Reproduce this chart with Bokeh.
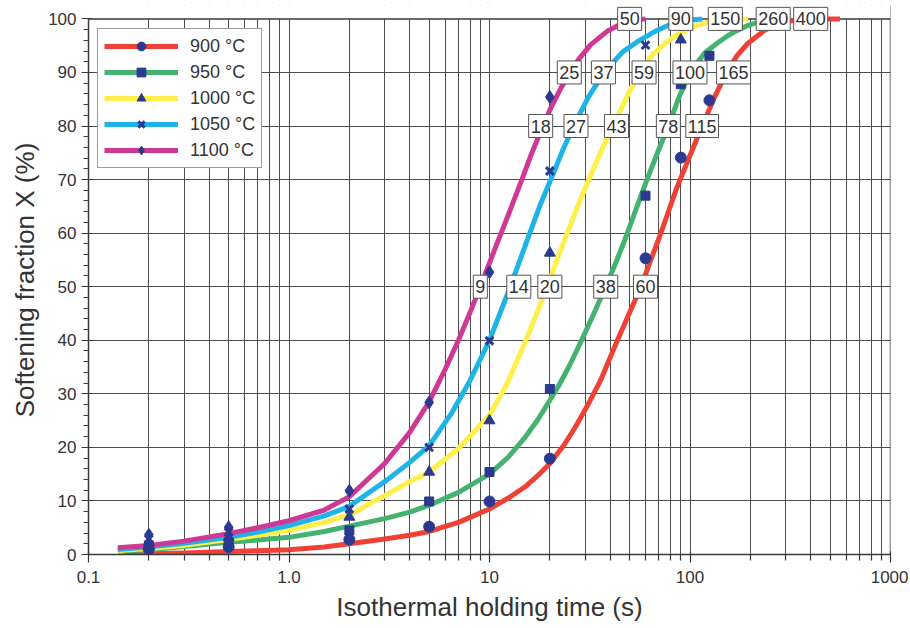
from bokeh.plotting import figure
from bokeh.models import (FixedTicker, Legend, LegendItem, Range1d, Label, Span, BoxAnnotation)
from bokeh.embed import file_html
from bokeh.resources import INLINE

# ---------------- data ----------------
series_names = ["900 °C", "950 °C", "1000 °C", "1050 °C", "1100 °C"]

# fitted curves (time in s, softening fraction in %)
t_900 = [0.15, 0.2, 0.3, 0.5, 0.7, 1, 1.5, 2, 3, 4, 5, 7, 10, 12.5, 15, 17.5, 20, 23.5, 27, 31, 35.8, 39.5, 43, 50, 57, 63, 70, 78, 86, 100, 115, 133, 152, 172, 194, 236, 270, 305, 350, 400, 560]
x_900 = [0.1, 0.15, 0.3, 0.55, 0.7, 0.9, 1.4, 2.0, 2.9, 3.6, 4.3, 6.0, 8.5, 10.6, 12.6, 14.8, 17.0, 20.4, 24.0, 28.0, 32.5, 36.3, 39.6, 45.2, 50, 54.5, 59, 64, 68.5, 74.5, 80, 85.5, 90, 93.2, 95.4, 97.9, 98.9, 99.5, 99.9, 100, 100]

t_950 = [0.14, 0.2, 0.3, 0.5, 0.7, 1, 1.5, 2, 3, 4, 5, 7, 10, 12.5, 15, 17.5, 20, 22.2, 25, 28.4, 33, 38, 43, 47.6, 53, 58.9, 68, 78, 88, 100, 118, 137, 155, 171, 195, 215, 260, 300]
x_950 = [0.6, 0.9, 1.5, 2.3, 2.7, 3.2, 4.3, 5.3, 6.7, 7.9, 9.2, 11.6, 15.0, 18.3, 21.8, 25.3, 28.8, 31.6, 35.2, 39.5, 44.8, 50, 54.8, 59, 63.8, 68.5, 74.5, 80, 85.3, 90, 93.6, 95.5, 96.9, 97.8, 98.8, 99.3, 99.8, 100]

t_1000 = [0.14, 0.2, 0.3, 0.5, 0.7, 1, 1.5, 2, 3, 4, 5, 7, 10, 12.2, 15, 17, 19.4, 21.8, 24.3, 27.5, 31.3, 36, 42, 48, 55, 65, 77, 88, 101, 123, 160, 195]
x_1000 = [0.75, 1.1, 1.7, 2.8, 3.6, 4.5, 6.0, 7.4, 11.0, 13.6, 15.4, 19.8, 26.0, 31.8, 39.5, 44.5, 50, 55.2, 59.8, 65, 70, 75.3, 80.5, 85.2, 89.5, 93.3, 95.8, 97.2, 98.3, 99.4, 99.9, 100]

t_1050 = [0.14, 0.2, 0.3, 0.5, 0.7, 1, 1.5, 2, 3, 4, 5, 6.5, 8, 10, 12.7, 15.7, 18, 21, 23.5, 26.5, 31, 37, 46, 56, 68, 80, 100, 115]
x_1050 = [0.95, 1.4, 2.1, 3.2, 4.2, 5.4, 7.2, 9.0, 13.6, 17.2, 20.3, 26.5, 32.5, 40, 50, 59.5, 65.5, 71.5, 76, 80.2, 85.3, 89.8, 93.8, 96, 97.8, 99, 99.8, 100]

t_1100 = [0.14, 0.2, 0.3, 0.5, 0.7, 1, 1.5, 2, 3, 4, 5, 6, 7, 8, 9, 10.5, 12, 14.5, 16, 18, 20, 22.5, 25, 28, 32, 39, 45, 52, 60]
x_1100 = [1.25, 1.7, 2.5, 3.9, 5.0, 6.3, 8.3, 10.8, 17.0, 22.8, 28.5, 34.5, 40, 45.2, 50, 56.5, 62, 70, 74.3, 79, 83, 86.8, 89.8, 92.6, 95.2, 97.8, 99, 99.7, 100]

# measured points
pt_900 = [0.2, 0.5, 2, 5, 10, 20, 60, 90, 125]
px_900 = [1.0, 1.4, 2.8, 5.2, 9.9, 17.9, 55.3, 74.1, 84.8]
pt_950 = [0.2, 0.5, 2, 5, 10, 20, 60, 90, 125]
px_950 = [1.7, 2.3, 4.5, 9.9, 15.4, 30.9, 67.0, 87.8, 93.1]
pt_1000 = [0.2, 0.5, 2, 5, 10, 20, 90]
px_1000 = [2.3, 3.2, 7.0, 15.4, 25.0, 56.3, 96.1]
pt_1050 = [0.2, 0.5, 2, 5, 10, 20, 60]
px_1050 = [2.9, 4.2, 8.5, 20.0, 39.9, 71.6, 95.1]
pt_1100 = [0.2, 0.5, 2, 5, 10, 20]
px_1100 = [3.7, 5.1, 11.9, 28.4, 52.7, 85.4]

# characteristic times (s) at 50, 80, 90 and 100 % softening
level_50 = [9, 14, 20, 38, 60]
level_80 = [18, 27, 43, 78, 115]
level_90 = [25, 37, 59, 100, 165]
level_100 = [50, 90, 150, 260, 400]
levels = [50, 80, 90, 100]

x_major = [0.1, 1, 10, 100, 1000]
x_tick_labels = ["0.1", "1.0", "10", "100", "1000"]
y_major = list(range(0, 101, 10))
x_lim = (0.1, 1000)
y_lim = (0, 100)

# ---------------- styling ----------------
colors = ["#EF4136", "#45B36F", "#FFEF4A", "#1FB4E8", "#CF3996"]
markers = ["circle", "square", "triangle", "x", "diamond"]
msizes = [11, 9, 11, 11, 13]
mcolor = "#2B3A8F"
FONT = "Liberation Sans"
GRID = "#4d4d4d"
AXIS = "#3a3a3a"
TXT = "#333333"

# a little head-room above 100 % so the boxed labels on the 100 % line are not cut
p = figure(width=908, height=626, x_axis_type="log",
           x_range=Range1d(x_lim[0], x_lim[1]), y_range=Range1d(y_lim[0], y_lim[1] + 2.5),
           output_backend="svg", toolbar_location=None,
           min_border_left=88, min_border_right=18, min_border_top=5, min_border_bottom=72)
p.background_fill_color = "white"
p.border_fill_color = "white"
p.outline_line_color = None

x_minor = [m * d for d in [0.1, 1, 10, 100] for m in range(2, 10)]
xt = FixedTicker(ticks=x_major, minor_ticks=x_minor)
yt = FixedTicker(ticks=y_major, minor_ticks=list(range(0, 101, 2)))
p.xaxis.ticker = xt
p.yaxis.ticker = yt
p.xgrid.ticker = xt
p.ygrid.ticker = yt
p.yaxis.bounds = y_lim
p.xaxis.major_label_overrides = {v: s for v, s in zip(x_major, x_tick_labels)}

p.xgrid.grid_line_color = GRID
p.xgrid.minor_grid_line_color = GRID
p.xgrid.grid_line_width = 1
p.xgrid.minor_grid_line_width = 1
p.ygrid.grid_line_color = GRID
p.ygrid.grid_line_width = 1

for ax in (p.xaxis, p.yaxis):
    ax.axis_line_color = AXIS
    ax.axis_line_width = 1.5
    ax.major_tick_line_color = AXIS
    ax.minor_tick_line_color = AXIS
    ax.major_tick_line_width = 1.2
    ax.minor_tick_line_width = 1.2
    ax.major_label_text_font = FONT
    ax.major_label_text_font_size = "17px"
    ax.major_label_text_color = TXT
    ax.axis_label_text_font = FONT
    ax.axis_label_text_font_size = "26px"
    ax.axis_label_text_font_style = "normal"
    ax.axis_label_text_color = TXT

p.xaxis.major_tick_out = 8
p.xaxis.major_tick_in = 3
p.xaxis.minor_tick_out = 6
p.xaxis.minor_tick_in = 0
p.xaxis.major_label_standoff = 8
p.xaxis.axis_label_standoff = 6
p.yaxis.major_tick_out = 7
p.yaxis.major_tick_in = 4
p.yaxis.minor_tick_out = 5
p.yaxis.minor_tick_in = 0
p.yaxis.major_label_standoff = 5
p.yaxis.axis_label_standoff = 5

p.xaxis.axis_label = "Isothermal holding time (s)"
p.yaxis.axis_label = "Softening fraction X (%)"

# frame border at x = 1000 and y = 100; blank the head-room strip above 100 %
p.add_layout(Span(location=x_lim[1], dimension="height", line_color=AXIS, line_width=1.5, level="underlay"))
p.add_layout(BoxAnnotation(bottom=y_lim[1], fill_color="white", fill_alpha=1.0, line_color=None, level="underlay"))
p.add_layout(Span(location=y_lim[1], dimension="width", line_color=AXIS, line_width=1.5, level="underlay"))

curves = [(t_900, x_900), (t_950, x_950), (t_1000, x_1000), (t_1050, x_1050), (t_1100, x_1100)]
points = [(pt_900, px_900), (pt_950, px_950), (pt_1000, px_1000), (pt_1050, px_1050), (pt_1100, px_1100)]

line_rs = []
for (t, x), c in zip(curves, colors):
    line_rs.append(p.line(t, x, line_color=c, line_width=5, line_join="round"))

items = []
for i, ((t, x), m, s) in enumerate(zip(points, markers, msizes)):
    lw = 3 if m == "x" else 1
    r = p.scatter(t, x, marker=m, size=s, fill_color=mcolor, line_color=mcolor, line_width=lw)
    items.append(LegendItem(label=series_names[i], renderers=[line_rs[i], r]))

legend = Legend(items=items, location=(9, 386), padding=6, spacing=4,
                glyph_width=74, glyph_height=22, label_height=22, label_standoff=12,
                label_text_font=FONT, label_text_font_size="18px", label_text_color=TXT,
                border_line_color=AXIS, border_line_width=1.5,
                background_fill_color="white", background_fill_alpha=1.0)
p.add_layout(legend)

for lvl, vals in zip(levels, [level_50, level_80, level_90, level_100]):
    for v in vals:
        p.add_layout(Label(x=v, y=lvl, text=str(v), text_align="center", text_baseline="middle",
                           text_font=FONT, text_font_size="18px", text_color=TXT,
                           background_fill_color="white", border_line_color="#555555",
                           border_line_width=1, padding=(2, 5)))

open("out.html", "w").write(file_html(p, INLINE))
